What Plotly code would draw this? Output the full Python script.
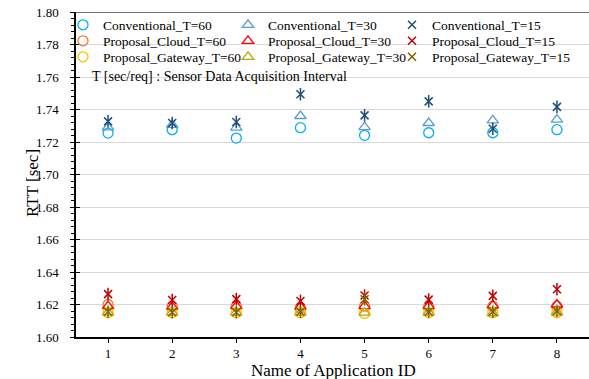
import plotly.graph_objects as go

app_ids = [1, 2, 3, 4, 5, 6, 7, 8]

conv_t60 = [1.7255, 1.7276, 1.7224, 1.7288, 1.7241, 1.7257, 1.7257, 1.7276]
conv_t30 = [1.7290, 1.7305, 1.7288, 1.7360, 1.7292, 1.7317, 1.7333, 1.7338]
conv_t15 = [1.7327, 1.7317, 1.7323, 1.7494, 1.7364, 1.7450, 1.7282, 1.7416]

cloud_t60 = [1.6200, 1.6190, 1.6190, 1.6180, 1.6190, 1.6185, 1.6190, 1.6190]
cloud_t30 = [1.6190, 1.6185, 1.6190, 1.6185, 1.6190, 1.6190, 1.6195, 1.6200]
cloud_t15 = [1.6264, 1.6228, 1.6233, 1.6222, 1.6255, 1.6230, 1.6253, 1.6294]

gw_t60 = [1.6150, 1.6150, 1.6150, 1.6150, 1.6145, 1.6150, 1.6150, 1.6150]
gw_t30 = [1.6150, 1.6150, 1.6150, 1.6150, 1.6150, 1.6150, 1.6145, 1.6150]
gw_t15 = [1.6155, 1.6152, 1.6152, 1.6155, 1.6232, 1.6155, 1.6155, 1.6160]

y_ticks = [1.60, 1.62, 1.64, 1.66, 1.68, 1.70, 1.72, 1.74, 1.76, 1.78, 1.80]

FONT = "Liberation Serif"
W, H = 589, 379

series = [
    ("Conventional_T=60", conv_t60, "circle-open", "#00B0F0"),
    ("Conventional_T=30", conv_t30, "triangle-up-open", "#5B9BD5"),
    ("Conventional_T=15", conv_t15, "star", "#1F4E79"),
    ("Proposal_Cloud_T=60", cloud_t60, "circle-open", "#ED7D31"),
    ("Proposal_Cloud_T=30", cloud_t30, "triangle-up-open", "#FF0000"),
    ("Proposal_Cloud_T=15", cloud_t15, "star", "#C00000"),
    ("Proposal_Gateway_T=60", gw_t60, "circle-open", "#FFC000"),
    ("Proposal_Gateway_T=30", gw_t30, "triangle-up-open", "#BFA600"),
    ("Proposal_Gateway_T=15", gw_t15, "star", "#806000"),
]

# legend grid placement (container pixels): column left edges, row centers
col_left = [63, 228, 392]
row_mid = [25, 41, 57]

def cy(px):
    return 1 - px / H

def cx(px):
    return px / W

fig = go.Figure()
legend_layouts = {}
for i, (name, vals, sym, col) in enumerate(series):
    lg = "legend" if i == 0 else f"legend{i + 1}"
    r, c = divmod(i, 3)
    legend_layouts[lg] = dict(
        orientation="v", xanchor="left", yanchor="middle", xref="container", yref="container",
        x=cx(col_left[c]), y=cy(row_mid[r]),
        font=dict(family=FONT, size=13.5, color="#000000"),
        bgcolor="rgba(0,0,0,0)", itemwidth=30, borderwidth=0,
    )
    if sym == "star":
        fig.add_trace(go.Scatter(
            x=app_ids, y=vals, mode="markers", name=name, legendgroup=name, legend=lg,
            marker=dict(symbol="x-thin-open", size=8, line=dict(color=col, width=1.5), color=col),
        ))
        fig.add_trace(go.Scatter(
            x=app_ids, y=vals, mode="markers", name=name, legendgroup=name, legend=lg,
            showlegend=False,
            marker=dict(symbol="line-ns-open", size=9, line=dict(color=col, width=1.5), color=col),
        ))
    else:
        fig.add_trace(go.Scatter(
            x=app_ids, y=vals, mode="markers", name=name, legend=lg,
            marker=dict(symbol=sym, size=10, line=dict(color=col, width=1.3), color=col),
        ))

fig.update_layout(
    width=W, height=H,
    margin=dict(l=76, r=0, t=12, b=42, autoexpand=False),
    paper_bgcolor="white", plot_bgcolor="white",
    font=dict(family=FONT, size=14, color="#000000"),
    showlegend=True,
    xaxis=dict(
        range=[0.5, 8.5], tickmode="array", tickvals=app_ids,
        ticktext=[str(a) for a in app_ids], automargin=False,
        showgrid=False, zeroline=False, showline=True, linecolor="#000000", linewidth=1.5,
        ticks="outside", ticklen=4, tickcolor="#000000",
        tickfont=dict(family=FONT, size=13, color="#000000"),
    ),
    yaxis=dict(
        range=[1.60, 1.80], tickmode="array", tickvals=y_ticks,
        ticktext=[f"{v:.2f}" for v in y_ticks], automargin=False,
        showgrid=True, gridcolor="#D9D9D9", gridwidth=1, zeroline=False,
        showline=True, linecolor="#000000", linewidth=1.5,
        ticks="outside", ticklen=4, tickcolor="#000000",
        minor=dict(dtick=0.004, ticks="outside", ticklen=3, tickcolor="#000000", showgrid=False),
        tickfont=dict(family=FONT, size=13, color="#000000"),
        ticklabelstandoff=9,
    ),
    yaxis2=dict(
        range=[1.60, 1.80], overlaying="y", side="left", tickmode="array", tickvals=y_ticks,
        showticklabels=False, showgrid=False, zeroline=False, showline=False,
        ticks="inside", ticklen=4, tickcolor="#000000", automargin=False,
    ),
    shapes=[dict(type="line", xref="paper", yref="y", x0=0, x1=1, y0=1.80, y1=1.80,
                 line=dict(color="#404040", width=1.5))],
    annotations=[
        dict(text="T [sec/req] : Sensor Data Acquisition Interval", xref="paper", yref="paper",
             x=(90 - 76) / 513, y=1 - (77 - 12) / 325, xanchor="left", yanchor="middle",
             showarrow=False, font=dict(family=FONT, size=14, color="#000000")),
        dict(text="RTT [sec]", xref="paper", yref="paper", textangle=-90,
             x=(32 - 76) / 513, y=1 - (183 - 12) / 325, xanchor="center", yanchor="middle",
             showarrow=False, font=dict(family=FONT, size=17, color="#000000")),
        dict(text="Name of Application ID", xref="paper", yref="paper",
             x=(333 - 76) / 513, y=1 - (370 - 12) / 325, xanchor="center", yanchor="middle",
             showarrow=False, font=dict(family=FONT, size=17, color="#000000")),
    ],
    **legend_layouts,
)

fig.add_trace(go.Scatter(x=[None], y=[None], yaxis="y2", showlegend=False, hoverinfo="skip"))

fig.write_html("out.html", config={"displayModeBar": False},
               post_script="document.body.style.margin='0';")
